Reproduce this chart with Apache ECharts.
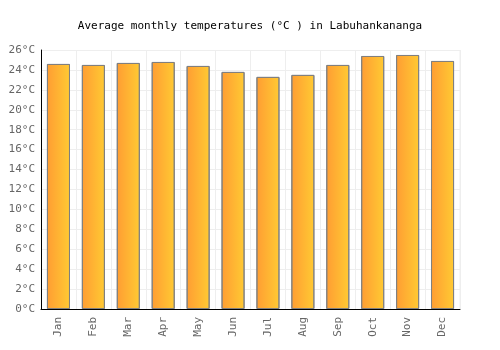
<!DOCTYPE html>
<html>
<head>
<meta charset="UTF-8">
<title>Labuhankananga temperatures</title>
<script src="https://cdn.jsdelivr.net/npm/echarts@6/dist/echarts.min.js"></script>
</head>
<body style="margin:0">
<div id="main" style="width:500px;height:350px;"></div>
<script>
var months = ['Jan', 'Feb', 'Mar', 'Apr', 'May', 'Jun', 'Jul', 'Aug', 'Sep', 'Oct', 'Nov', 'Dec'];
var temps = [24.6, 24.5, 24.7, 24.8, 24.4, 23.8, 23.3, 23.5, 24.5, 25.4, 25.5, 24.9];
var yTicks = [0, 2, 4, 6, 8, 10, 12, 14, 16, 18, 20, 22, 24, 26];

var chart = echarts.init(document.getElementById('main'));
var font = '"DejaVu Sans Mono", monospace';

chart.setOption({
    animation: false,
    title: {
        text: 'Average monthly temperatures (°C ) in Labuhankananga',
        left: 'center',
        top: 16,
        textStyle: { fontFamily: font, fontSize: 11, fontWeight: 'normal', color: '#000' }
    },
    grid: { left: 41, right: 40, top: 50, bottom: 41 },
    xAxis: {
        type: 'category',
        data: months,
        axisLine: { lineStyle: { color: '#000', width: 1 } },
        axisTick: { show: false },
        axisLabel: { rotate: 90, color: '#666', fontFamily: font, fontSize: 11, margin: 8 },
        splitLine: { show: true, lineStyle: { color: '#eee' } }
    },
    yAxis: {
        type: 'value',
        min: yTicks[0],
        max: yTicks[yTicks.length - 1],
        interval: 2,
        axisLine: { show: true, lineStyle: { color: '#000', width: 1 } },
        axisTick: { show: false },
        axisLabel: { formatter: '{value}°C', color: '#666', fontFamily: font, fontSize: 11, margin: 6 },
        splitLine: { show: true, lineStyle: { color: '#eee' } }
    },
    series: [{
        type: 'bar',
        data: temps,
        barWidth: '66%',
        itemStyle: {
            color: new echarts.graphic.LinearGradient(0, 0, 1, 0, [
                { offset: 0, color: '#ff9d33' },
                { offset: 1, color: '#ffca33' }
            ]),
            borderColor: '#808080',
            borderWidth: 1
        }
    }]
});
// right border of the plot area
chart.setOption({
    graphic: [{
        type: 'line',
        shape: { x1: 460, y1: 50, x2: 460, y2: 309 },
        style: { stroke: '#eee', lineWidth: 1 }
    }]
});
</script>
</body>
</html>
